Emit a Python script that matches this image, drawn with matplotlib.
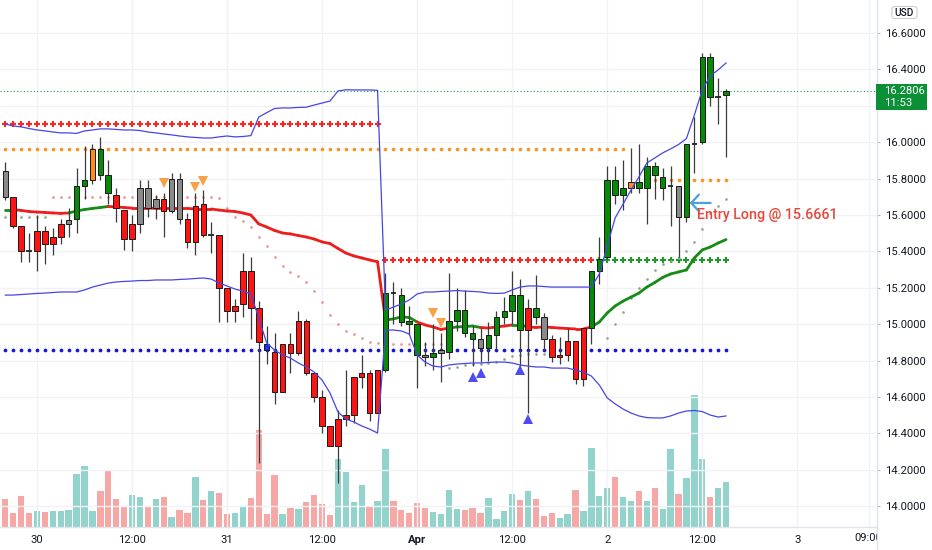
import numpy as np
import matplotlib
matplotlib.use("Agg")
import matplotlib.pyplot as plt
from matplotlib.patches import Rectangle, FancyBboxPatch
from matplotlib.lines import Line2D
from matplotlib.collections import LineCollection
from matplotlib.transforms import Bbox, TransformedBbox, blended_transform_factory

plt.rcParams['font.family'] = ['Roboto', 'DejaVu Sans']

# ------------------------------------------------------------------ data
first_hour = -4          # first candle = hours from Mar 30 00:00 (hourly bars)

opens = [15.84,15.70,15.54,15.40,15.51,15.51,15.48,15.55,15.55,15.58,
         15.76,15.79,15.82,15.72,15.71,15.63,15.55,15.55,15.75,15.64,
         15.69,15.62,15.80,15.58,15.65,15.66,15.49,15.49,15.20,15.10,
         15.29,15.29,15.09,14.89,14.85,14.89,14.89,15.02,15.02,14.73,
         14.60,14.44,14.48,14.50,14.71,14.73,14.73,14.75,14.75,15.17,
         15.01,15.00,14.83,14.83,14.82,14.84,14.85,15.02,14.95,14.92,
         14.92,14.87,14.94,15.04,15.07,14.97,15.09,15.04,15.04,14.92,
         14.83,14.91,14.91,14.98,14.98,15.29,15.37,15.71,15.71,15.75,
         15.75,15.75,15.82,15.75,15.76,15.76,15.59,15.99,16.00,16.25,
         16.25,16.26]
highs = [15.89,15.70,15.54,15.50,15.60,15.54,15.53,15.58,15.64,15.86,
         15.98,15.99,16.03,15.90,15.75,15.63,15.60,15.79,15.79,15.71,
         15.72,15.83,15.83,15.61,15.72,15.74,15.56,15.49,15.20,15.14,
         15.39,15.37,15.13,14.99,14.95,14.89,14.95,15.07,15.03,14.73,
         14.64,14.44,14.53,14.75,14.71,14.83,14.75,14.75,15.28,15.23,
         15.20,15.10,15.00,14.90,15.00,14.95,15.28,15.20,15.19,14.99,
         14.98,15.01,15.07,15.15,15.29,15.25,15.14,15.27,15.06,14.94,
         14.93,14.98,14.91,14.98,15.29,15.48,15.87,15.87,15.90,15.97,
         15.99,15.92,15.89,15.86,15.87,15.76,15.99,16.14,16.49,16.49,
         16.35,16.29]
lows = [15.68,15.53,15.34,15.34,15.29,15.33,15.38,15.44,15.48,15.50,
        15.69,15.77,15.79,15.66,15.56,15.41,15.40,15.50,15.59,15.58,
        15.48,15.61,15.55,15.42,15.38,15.48,15.39,15.01,15.01,15.01,
        15.04,14.92,14.24,14.78,14.56,14.63,14.73,14.83,14.72,14.57,
        14.40,14.33,14.13,14.44,14.46,14.65,14.47,14.51,14.74,15.00,
        14.99,14.94,14.65,14.77,14.75,14.68,14.81,14.96,14.93,14.77,
        14.79,14.80,14.86,15.00,15.00,14.76,14.51,15.00,14.86,14.79,
        14.78,14.80,14.67,14.66,14.89,15.22,15.36,15.66,15.63,15.72,
        15.72,15.55,15.69,15.68,15.54,15.37,15.56,15.83,15.99,16.20,
        16.10,15.92]
closes = [15.70,15.54,15.40,15.40,15.40,15.44,15.44,15.48,15.57,15.76,
          15.79,15.96,15.96,15.82,15.64,15.47,15.47,15.75,15.64,15.69,
          15.62,15.80,15.58,15.45,15.45,15.49,15.49,15.20,15.07,15.07,
          15.11,15.09,14.90,14.86,14.63,14.63,14.84,14.84,14.73,14.60,
          14.44,14.33,14.33,14.48,14.50,14.71,14.51,14.51,15.17,15.17,
          15.16,15.02,15.00,14.82,14.84,14.86,15.02,15.08,15.08,14.95,
          14.87,14.94,15.04,15.07,15.16,15.16,14.97,15.09,14.92,14.82,
          14.82,14.83,14.70,14.70,15.29,15.36,15.79,15.79,15.75,15.78,
          15.78,15.87,15.87,15.81,15.76,15.59,15.99,15.99,16.47,16.47,
          16.25,16.2806]
# bar colouring: R red, G green, N neutral grey, O orange, B blue, D doji
bar_colour = ("NRRDRRRRNG" "GOGGRRRNNN" "RNNRRRDRRR" "RRRBRRRRRR" "RRRRRRRRGD"
              "GGGNGNGGGG" "NGGGGGRGNR" "RRRRGGGGGO" "GGGGDNGDGG" "DG")

volume_k = [28.3,14.3,31,14.3,16.3,15.3,16.3,16,16.7,53,
            60.7,16,36,56,27.7,19.7,31.7,30.3,20.7,28.3,
            29.7,10.3,16.7,13.7,49.7,27.3,36,33.7,13.3,13.7,
            19.7,29.3,97.3,12.7,51.7,13.3,18.7,18,24.7,32.3,
            22.7,12,68,54.7,24.7,41.7,20.7,25.7,78.3,26,
            16.7,13.7,24,19,14.7,12.7,36.7,17.7,16.7,19,
            13.7,29,8,16.3,33,27.3,35.7,28,11,14.3,
            9.3,12.7,37.3,15.7,78.7,31.3,38.7,50,30.3,26.3,
            35.7,25.7,39,17.7,78,33,49.3,131.7,67.7,30.3,
            38.7,44.7]
volume_dir = ("DDDDUDUUUU" "UUDDDDUUDU" "DUDDUDUDDU" "UDDDDUDUDD" "DDUUUUDUUD"
              "DDDDUUUUDD" "DUUUUDUDDD" "UUDUUUUDUU" "DUDUUDUUUD" "UU")

ma = [15.630,15.630,15.625,15.619,15.616,15.614,15.611,15.609,15.611,15.622,
      15.630,15.636,15.641,15.647,15.644,15.641,15.638,15.638,15.638,15.636,
      15.636,15.636,15.636,15.636,15.633,15.633,15.633,15.627,15.622,15.619,
      15.611,15.600,15.551,15.534,15.515,15.501,15.496,15.487,15.479,15.468,
      15.452,15.443,15.416,15.391,15.375,15.364,15.353,15.343,15.023,15.029,
      15.040,15.037,15.012,14.996,14.985,14.971,14.979,14.985,14.987,14.990,
      14.982,14.979,14.985,14.990,14.996,14.996,14.985,14.982,14.985,14.982,
      14.979,14.976,14.974,14.974,14.985,15.012,15.062,15.100,15.127,15.149,
      15.171,15.204,15.229,15.257,15.276,15.287,15.298,15.364,15.408,15.424,
      15.446,15.465]
ma_trend = "G" + "R"*7 + "G"*5 + "R"*35 + "G"*4 + "R"*4 + "G"*4 + "R"*4 + "G"*2 + "R"*8 + "G"*18

band_upper = [16.100,16.089,16.084,16.075,16.067,16.062,16.056,16.051,16.051,16.048,
              16.062,16.067,16.073,16.073,16.070,16.067,16.067,16.064,16.056,16.051,
              16.045,16.040,16.034,16.029,16.026,16.023,16.023,16.029,16.034,16.029,
              16.031,16.036,16.138,16.162,16.185,16.188,16.188,16.191,16.192,16.204,
              16.215,16.226,16.281,16.288,16.287,16.287,16.287,16.285,15.078,15.094,
              15.111,15.133,15.166,15.177,15.177,15.180,15.182,15.185,15.182,15.180,
              15.177,15.171,15.169,15.171,15.188,15.204,15.210,15.210,15.207,15.204,
              15.204,15.204,15.204,15.204,15.204,15.276,15.430,15.584,15.660,15.737,
              15.809,15.886,15.913,15.941,15.963,15.987,16.020,16.149,16.287,16.364,
              16.397,16.435]
band_lower = [15.160,15.160,15.163,15.166,15.169,15.171,15.174,15.177,15.177,15.177,
              15.188,15.204,15.215,15.226,15.232,15.235,15.237,15.240,15.240,15.243,
              15.243,15.243,15.246,15.248,15.251,15.254,15.248,15.226,15.210,15.193,
              15.182,15.166,15.034,14.897,14.858,14.831,14.814,14.787,14.765,14.737,
              14.693,14.622,14.518,14.479,14.463,14.441,14.424,14.402,14.968,14.968,
              14.963,14.946,14.831,14.792,14.770,14.765,14.776,14.781,14.784,14.787,
              14.787,14.790,14.792,14.792,14.787,14.776,14.770,14.765,14.765,14.759,
              14.759,14.759,14.748,14.737,14.715,14.666,14.595,14.562,14.534,14.512,
              14.496,14.487,14.485,14.485,14.496,14.512,14.523,14.526,14.520,14.501,
              14.490,14.496]

# trailing stop dots (candle number, price)
stop_above_bars = list(range(7, 57))
stop_above = ([15.699]*21 + [15.693] +
              [15.638,15.591,15.567,15.536,15.481,15.430,15.368,15.321,15.285,15.265,
               15.234,15.182,15.120,15.051,15.000,14.963,14.944,14.923,14.904,14.895] +
              [14.893]*8)
stop_below_bars = list(range(1, 7)) + list(range(57, 70)) + list(range(77, 93))
stop_below = ([15.589]*6 +
              [14.759,14.767,14.776,14.779,14.781,14.785,14.794,14.807,14.825,14.831,
               14.834,14.835,14.835] +
              [14.923,15.001,15.069,15.142,15.197,15.247,15.298,15.331,15.347,15.364,
               15.402,15.452,15.523,15.611,15.650,15.688])

# horizontal levels: (first candle, last candle, price)
red_cross_levels = [(1, 48, 16.10), (49, 75, 15.35)]
green_cross_levels = [(76, 92, 15.35)]
orange_dot_levels = [(1, 79, 15.96), (83, 92, 15.79)]
blue_dot_levels = [(1, 92, 14.86)]

sell_signal_bars = [21, 25, 26, 55, 56]
sell_signal_price = [15.776, 15.754, 15.788, 15.060, 15.005]
buy_signal_bars = [60, 61, 66, 67]
buy_signal_price = [14.708, 14.730, 14.748, 14.477]

entry_bar = 87
entry_price = 15.6661
countdown = "11:53"

time_ticks = [0, 12, 24, 36, 48, 60, 72, 84, 96]
time_labels = ["30", "12:00", "31", "12:00", "Apr", "12:00", "2", "12:00", "3"]
extra_tick, extra_label = 105, "09:00"
price_ticks = [14.0, 14.2, 14.4, 14.6, 14.8, 15.0, 15.2, 15.4, 15.6, 15.8, 16.0, 16.2, 16.4, 16.6]

# ------------------------------------------------------------------ figure
W, H = 932, 550
fig = plt.figure(figsize=(W / 100, H / 100), dpi=100)
fig.patch.set_facecolor("white")

plot_right, plot_bottom = 877, 527
pos = [0, (H - plot_bottom) / H, plot_right / W, plot_bottom / H]
axv = fig.add_axes(pos)
ax = fig.add_axes(pos)
ax.patch.set_alpha(0)

n = len(opens)
t = np.arange(n) + first_hour
xlim = (-4.67, 106.06)
ylim = (13.886, 16.781)

# volume pane
vcol = {"U": "#92d3cb", "D": "#f6a8a6"}
axv.bar(t, volume_k, width=0.8, color=[vcol[d] for d in volume_dir], zorder=1)
axv.set_xlim(*xlim)
axv.set_ylim(0, 527)
axv.axis("off")

ax.set_xlim(*xlim)
ax.set_ylim(*ylim)

# grid
for p in price_ticks:
    ax.axhline(p, color="#f0f2f6", lw=1, zorder=0)
for x in time_ticks + [extra_tick]:
    ax.axvline(x, color="#f0f2f6", lw=1, zorder=0)

# levels
def bars_range(a, b):
    return t[a - 1:b]

for a, b, v in red_cross_levels:
    xs = bars_range(a, b)
    ax.plot(xs, [v] * len(xs), ls="none", marker="+", ms=4.2, mew=1.5, color="#ff2424", zorder=2)
for a, b, v in green_cross_levels:
    xs = bars_range(a, b)
    ax.plot(xs, [v] * len(xs), ls="none", marker="+", ms=4.2, mew=1.5, color="#1f9a2a", zorder=2)
for a, b, v in orange_dot_levels:
    xs = bars_range(a, b)
    ax.plot(xs, [v] * len(xs), ls="none", marker="o", ms=2.6, mew=0, color="#f7931e", zorder=2)
for a, b, v in blue_dot_levels:
    xs = bars_range(a, b)
    ax.plot(xs, [v] * len(xs), ls="none", marker="o", ms=2.7, mew=0, color="#1414d8", zorder=2)

# trailing stop dots
ax.plot(t[np.array(stop_above_bars) - 1], stop_above, ls="none", marker="o", ms=1.9, mew=0,
        color="#f08c8c", zorder=2)
ax.plot(t[np.array(stop_below_bars) - 1], stop_below, ls="none", marker="o", ms=1.9, mew=0,
        color="#8aa98a", zorder=2)

# last price line
ax.axhline(closes[-1], color="#1f9a4c", lw=0.8, ls=(0, (1, 2)), zorder=2)

# moving average coloured by trend
pts = np.column_stack([t, ma])
segs = [pts[i:i + 2] for i in range(n - 1)]
mcol = {"G": "#168c16", "R": "#ee1c1c"}
ax.add_collection(LineCollection(segs, colors=[mcol[ma_trend[i]] for i in range(n - 1)],
                                 linewidths=2.0, zorder=3, capstyle="round", joinstyle="round"))

# candles
ccol = {"R": "#ff1414", "G": "#078a07", "N": "#8a8a8a", "O": "#ff8c1a", "B": "#1530ff"}
bw = 0.7
for i in range(n):
    o, h, l, c = opens[i], highs[i], lows[i], closes[i]
    ax.vlines(t[i], l, h, color="#3c3c3c", lw=0.9, zorder=4)
    k = bar_colour[i]
    if k == "D":
        ax.hlines(o, t[i] - bw / 2, t[i] + bw / 2, color="#222222", lw=1.3, zorder=5)
    else:
        ax.add_patch(Rectangle((t[i] - bw / 2, min(o, c)), bw, abs(c - o),
                               facecolor=ccol[k], edgecolor="#1a1a1a", lw=0.7, zorder=5))

# bands
ax.plot(t, band_upper, color="#4646e6", lw=0.9, zorder=6)
ax.plot(t, band_lower, color="#4646e6", lw=0.9, zorder=6)

# signals
ax.plot(t[np.array(sell_signal_bars) - 1], sell_signal_price, ls="none", marker="v", ms=6.5,
        mew=0, color="#f7a24b", zorder=7)
ax.plot(t[np.array(buy_signal_bars) - 1], buy_signal_price, ls="none", marker="^", ms=6.5,
        mew=0, color="#4c4cf0", zorder=7)

# entry annotation
ex = t[entry_bar - 1]
ax.annotate("", xy=(ex + 0.42, entry_price), xytext=(ex + 3.05, entry_price),
            arrowprops=dict(arrowstyle="->,head_length=0.55,head_width=0.6", color="#4a9fdc",
                            lw=1.6, shrinkA=0, shrinkB=0), zorder=8)
ax.text(ex + 1.35, entry_price - 0.068, f"Entry Long @ {entry_price:.4f}", color="#e8473b",
        fontsize=10.3, fontweight="medium", ha="left", va="center", zorder=8)

# axes styling
for s in ["top", "left", "right"]:
    ax.spines[s].set_visible(False)
ax.spines["bottom"].set_color("#e0e3eb")
ax.spines["bottom"].set_linewidth(1)

ax.yaxis.tick_right()
ax.set_yticks(price_ticks)
# the 16.2 label sits under the last-price marker, as in the original
ax.set_yticklabels(["" if abs(p - closes[-1]) < 0.1 else f"{p:.4f}" for p in price_ticks])
ax.tick_params(axis="y", length=2, width=0.8, color="#b2b5be", pad=3.5, labelsize=8.1,
               labelcolor="#131722")
ax.set_xticks(time_ticks)
ax.set_xticklabels(time_labels)
ax.tick_params(axis="x", length=0, pad=5.5, labelsize=8.1, labelcolor="#131722")
for lbl in ax.get_xticklabels():
    if lbl.get_text() == "Apr":
        lbl.set_fontweight("bold")

# clipped future time label
tr = blended_transform_factory(ax.transData, ax.transAxes)
ft = ax.text(extra_tick, -0.0215, extra_label, transform=tr, ha="center", va="center",
             fontsize=8.1, color="#131722", clip_on=True)
ft.set_clip_box(TransformedBbox(Bbox([[0, 0], [plot_right / W, 1]]), fig.transFigure))

# price-axis separator
fig.add_artist(Line2D([plot_right / W, plot_right / W], [0, 1], transform=fig.transFigure,
                      color="#e0e3eb", lw=1))

# last-price label
def fx(px):
    return px / W

def fy(py):
    return 1 - py / H

fig.add_artist(Rectangle((fx(876), fy(110)), 51 / W, 26 / H, transform=fig.transFigure,
                         facecolor="#0b8f37", edgecolor="none", zorder=5))
fig.text(fx(884), fy(91.5), f"{closes[-1]:.4f}", color="white", fontsize=8.1, va="center",
         ha="left", zorder=6)
fig.text(fx(884), fy(103.5), countdown, color="white", fontsize=8.1, va="center", ha="left",
         zorder=6)

# currency box
fig.add_artist(FancyBboxPatch((fx(892), fy(18.5)), 25 / W, 12 / H,
                              boxstyle="round,pad=0,rounding_size=0.004",
                              transform=fig.transFigure, facecolor="white",
                              edgecolor="#c9ccd4", lw=0.8, zorder=5))
fig.text(fx(904.5), fy(12.5), "USD", color="#131722", fontsize=7.3, va="center", ha="center",
         fontweight="medium", zorder=6)

fig.savefig("out.png", dpi=100, facecolor="white")
